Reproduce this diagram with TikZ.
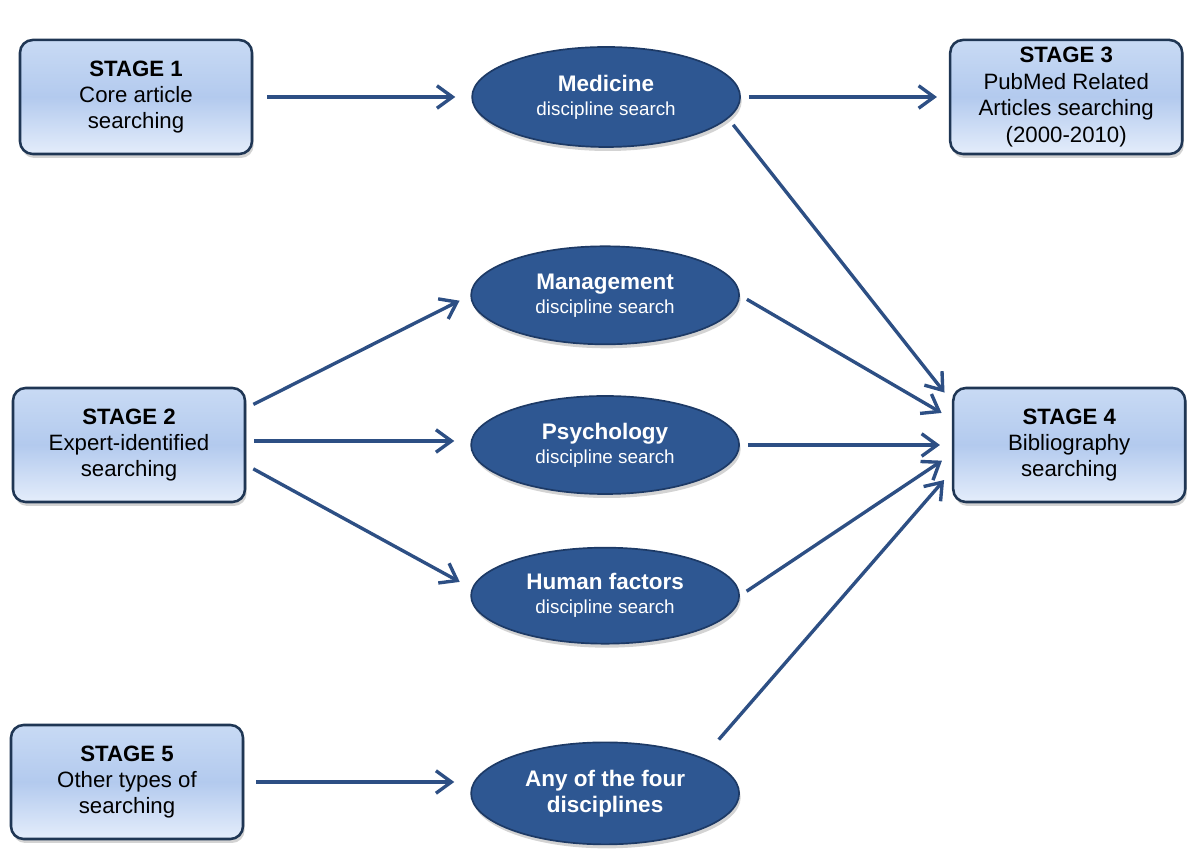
\documentclass[tikz,border=0pt]{standalone}
\usepackage{fontspec}
\setmainfont{Liberation Sans}
\usepackage{tikz}
\usetikzlibrary{positioning, arrows.meta, calc, shapes.geometric, shadows}
\definecolor{stageborder}{HTML}{1F3654}
\definecolor{stagetop}{HTML}{C8DAF4}
\definecolor{stagemid}{HTML}{B3CAEE}
\definecolor{stagebottom}{HTML}{E4EDFB}
\definecolor{discblue}{HTML}{2E5792}
\definecolor{discborder}{HTML}{1D3A66}
\definecolor{arrowblue}{HTML}{2D4F84}

\begin{document}
\begin{tikzpicture}[
    stage/.style={
        rectangle, draw=stageborder, line width=1.8pt, rounded corners=9pt,
        minimum width=5.8cm, minimum height=2.85cm, inner sep=1pt, align=center,
        top color=stagetop, bottom color=stagebottom, middle color=stagemid,
        font=\fontsize{15.8}{18.8}\selectfont,
        drop shadow={shadow xshift=0.04cm, shadow yshift=-0.1cm, opacity=0.35}
    },
    disc/.style={
        ellipse, draw=discborder, line width=1.2pt, fill=discblue,
        minimum width=6.7cm, minimum height=2.5cm, inner sep=0pt, align=center,
        text=white, font=\fontsize{16}{17}\selectfont\bfseries,
        drop shadow={shadow xshift=0.04cm, shadow yshift=-0.1cm, opacity=0.35}
    },
    arrow/.style={-{Straight Barb[length=11pt,width=16pt]}, line width=2.4pt,
        draw=arrowblue, shorten >=0.3cm, shorten <=0.2cm},
]
\useasboundingbox (0,0) rectangle (30,21.4);

% ── Stage 1 row ───────────────────────────────────────────────────────────
\node[stage] (stage1) at (3.4,18.975) {\textbf{STAGE 1}\\Core article\\searching};
\node[disc, right=5.45cm of stage1] (medicine)
    {Medicine\\{\fontsize{13.4}{17}\selectfont\mdseries discipline search}};
\node[stage, right=5.2cm of medicine] (stage3)
    {\textbf{STAGE 3}\\PubMed Related\\Articles searching\\(2000-2010)};

% ── Stage 2 row ───────────────────────────────────────────────────────────
\node[stage] (stage2) at (3.225,10.275) {\textbf{STAGE 2}\\Expert-identified\\searching};
\node[disc, right=5.6cm of stage2, minimum height=2.45cm] (psychology)
    {Psychology\\{\fontsize{13.4}{17}\selectfont\mdseries discipline search}};
\node[disc, above=1.25cm of psychology, minimum height=2.45cm] (management)
    {Management\\{\fontsize{13.4}{17}\selectfont\mdseries discipline search}};
\node[disc, below=1.3cm of psychology, minimum height=2.4cm] (human)
    {Human factors\\{\fontsize{13.4}{17}\selectfont\mdseries discipline search}};
\node[stage, right=5.3cm of psychology] (stage4) {\textbf{STAGE 4}\\Bibliography\\searching};

% ── Stage 5 row ───────────────────────────────────────────────────────────
\node[stage] (stage5) at (3.175,1.85) {\textbf{STAGE 5}\\Other types of\\searching};
\node[disc, below=2.425cm of human, minimum height=2.55cm,
      font=\fontsize{16}{18.5}\selectfont\bfseries] (any)
    {Any of the four\\disciplines};

% ── Arrows ────────────────────────────────────────────────────────────────
\draw[arrow, shorten >=0.4cm, shorten <=0.35cm] (stage1.east) -- (stage1.east -| medicine.west);
\draw[arrow, shorten >=0.3cm] (medicine.east) -- (medicine.east -| stage3.west);

\draw[arrow] ([yshift=0.925cm]stage2.east) -- (management.west);
\draw[arrow, shorten >=0.4cm] ([yshift=0.1cm]stage2.east) -- ([yshift=0.1cm]stage2.east -| psychology.west);
\draw[arrow] ([yshift=-0.5cm]stage2.east) -- ([yshift=0.2cm]human.west);

\draw[arrow, shorten >=0.4cm, shorten <=0.3cm] (stage5.east) -- (stage5.east -| any.west);

\draw[arrow] (medicine.-10) -- ([yshift=1.075cm]stage4.west);
\draw[arrow] (management.east) -- ([yshift=0.65cm]stage4.west);
\draw[arrow] (psychology.east) -- (psychology.east -| stage4.west);
\draw[arrow] (human.east) -- ([yshift=-0.225cm]stage4.west);
\draw[arrow, shorten <=0.6cm] (any.20) -- ([yshift=-0.65cm]stage4.west);

\end{tikzpicture}
\end{document}
